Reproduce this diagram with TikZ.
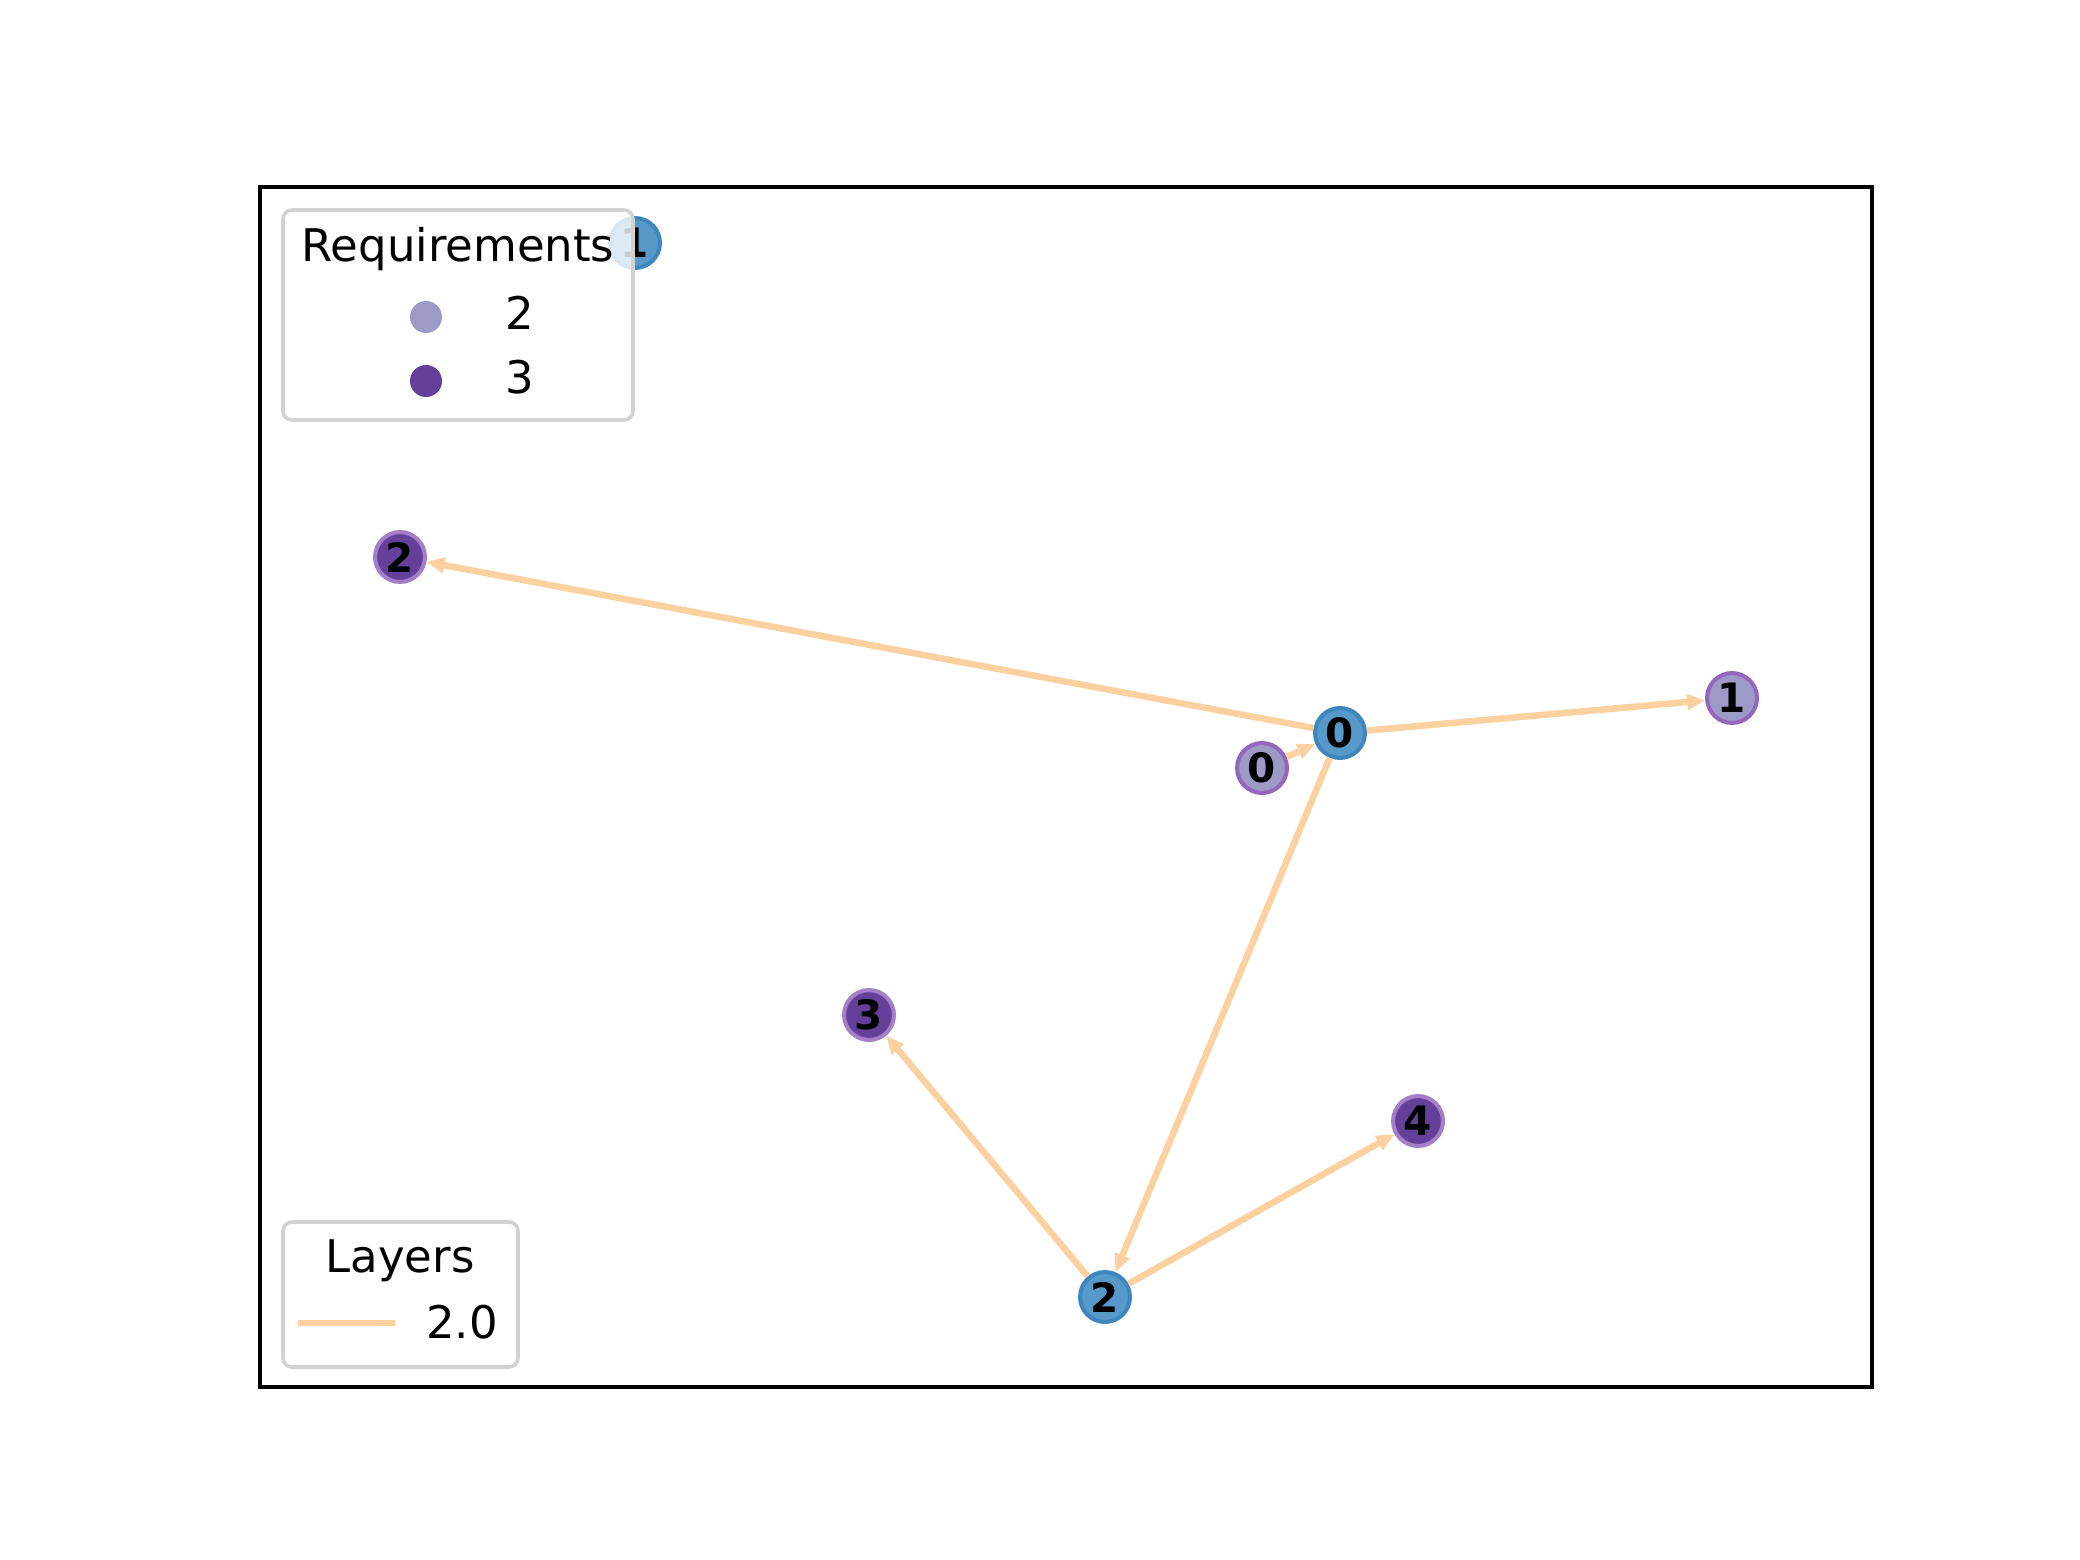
\documentclass[tikz,border=0pt]{standalone}
\usepackage{fontspec}
\setmainfont{DejaVu Sans}
\usetikzlibrary{arrows.meta, positioning}
\definecolor{HostBlue}{RGB}{87, 153, 200}
\definecolor{HostBlueEdge}{RGB}{62, 135, 190}
\definecolor{ReqLight}{RGB}{158, 154, 200}
\definecolor{ReqDark}{RGB}{100, 64, 154}
\definecolor{ReqEdge}{RGB}{148, 103, 189}
\definecolor{LayerOrange}{RGB}{253, 208, 160}
\definecolor{LegendGray}{RGB}{210, 210, 210}
\tikzset{
    basicnode/.style={
        circle, inner sep=0pt, minimum size=0.39cm, line width=0.9pt,
        font=\fontsize{9}{9}\selectfont\bfseries, text=black
    },
    hostnode/.style={basicnode, fill=HostBlue, draw=HostBlueEdge},
    reqtwo/.style={basicnode, fill=ReqLight, draw=ReqEdge},
    reqthree/.style={basicnode, fill=ReqDark, draw=ReqEdge!85!white},
    layerarrow/.style={-{Triangle[length=4pt, width=3.4pt]}, line width=1.45pt, color=LayerOrange},
    legendbox/.style={draw=LegendGray, line width=0.8pt, rounded corners=2pt, fill=white, fill opacity=0.8},
    legendtext/.style={font=\fontsize{10}{10}\selectfont, inner sep=0pt},
}

\begin{document}
\begin{tikzpicture}[x=0.0078154cm, y=-0.0078154cm]
    \useasboundingbox (0,0) rectangle (2080,1560);

    % Axes frame
    \draw[line width=0.8pt] (260,187) rectangle (1872,1387);

    % Host layer
    \node[hostnode] (h0) at (1340,733) {0};
    \node[hostnode] (h1) at (635,243) {1};
    \node[hostnode] (h2) at (1105,1297) {2};

    % Requirement nodes
    \node[reqtwo] (r0) at (1262,768) {0};
    \node[reqtwo] (r1) at (1732,698) {1};
    \node[reqthree] (r2) at (400,557) {2};
    \node[reqthree] (r3) at (869,1015) {3};
    \node[reqthree] (r4) at (1418,1121) {4};

    % Layer edges
    \draw[layerarrow] (r0) -- (h0);
    \draw[layerarrow] (h0) -- (r1);
    \draw[layerarrow] (h0) -- (r2);
    \draw[layerarrow] (h0) -- (h2);
    \draw[layerarrow] (h2) -- (r3);
    \draw[layerarrow] (h2) -- (r4);

    % Legend: requirements
    \draw[legendbox] (283,210) rectangle (633,420);
    \node[legendtext] (reqtitle) at (458,249) {Requirements};
    \fill[ReqLight] (426,317) circle (16);
    \node[legendtext] (reqlabA) at (520,313) {2};
    \fill[ReqDark] (426,381) circle (16);
    \node[legendtext] (reqlabB) at (520,377) {3};

    % Legend: layers
    \draw[legendbox] (283,1222) rectangle (518,1367);
    \node[legendtext] (laytitle) at (400,1261) {Layers};
    \coordinate (layA) at (298,1323);
    \coordinate (layB) at (395,1323);
    \draw[line width=1.45pt, LayerOrange] (layA) -- (layB);
    \node[legendtext] (laylab) at (462,1322) {2.0};
\end{tikzpicture}
\end{document}
